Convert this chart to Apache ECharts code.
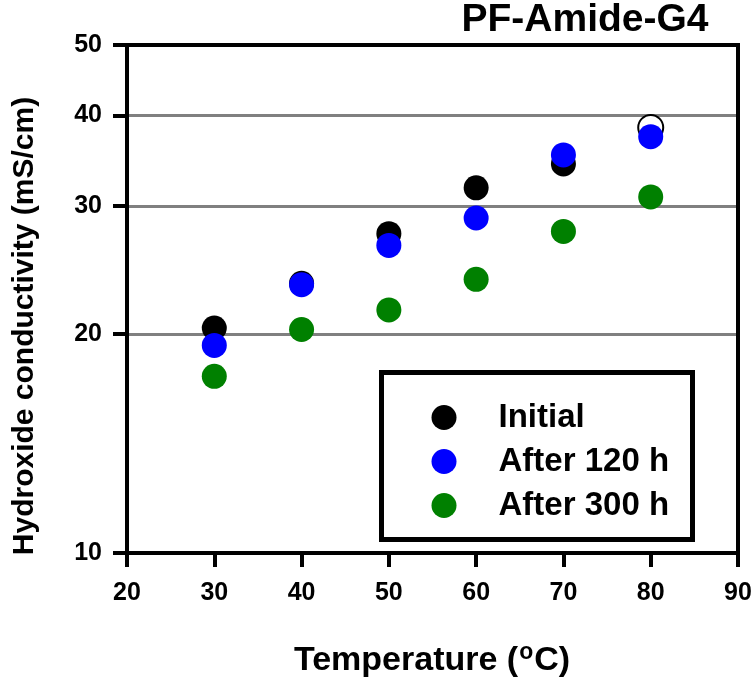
<!DOCTYPE html>
<html><head><meta charset="utf-8">
<script src="https://cdn.jsdelivr.net/npm/echarts@6/dist/echarts.min.js"></script>
<style>html,body{margin:0;padding:0;background:#fff}#c{width:755px;height:680px}</style>
</head><body><div id="c"></div>
<script>
// ---- data ----
const temperatures = [30, 40, 50, 60, 70, 80];
const initialVals = [20.4, 23.5, 27.5, 31.8, 34.3, 38.5];
const after120Vals = [19.3, 23.4, 26.5, 28.9, 35.3, 37.4];
const after300Vals = [17.5, 20.3, 21.6, 23.8, 27.7, 30.9];
const yTickValues = [10, 20, 30, 40, 50];
const seriesNames = ['Initial', 'After 120 h', 'After 300 h'];
const chartTitle = 'PF-Amide-G4';
const yAxisTitle = 'Hydroxide conductivity (mS/cm)';
const xAxisTitleParts = ['Temperature (', 'o', 'C)'];
const openMarkerIndex = 5; // Initial @ 80 °C drawn hollow

// ---- styling ----
const FONT = "'Liberation Sans', Arial, Helvetica, sans-serif";
const colors = ['#000000', '#0000ff', '#008000'];

function pts(vals, hollowIdx) {
  return vals.map((v, i) => {
    if (i === hollowIdx) {
      return { value: [temperatures[i], v], itemStyle: { color: '#ffffff', borderColor: '#000', borderWidth: 2 } };
    }
    return [temperatures[i], v];
  });
}

const chart = echarts.init(document.getElementById('c'), null, { renderer: 'canvas' });
const lblStyle = { color: '#000', fontSize: 25, fontWeight: 'bold', fontFamily: FONT };
chart.setOption({
  animation: false,
  backgroundColor: '#fff',
  grid: { left: 127, right: 17, top: 45, bottom: 127, show: false },
  xAxis: {
    type: 'value', min: 20, max: 90, interval: 10,
    axisLine: { show: true, onZero: false, lineStyle: { color: '#000', width: 4 } },
    axisTick: { show: true, length: 14, lineStyle: { color: '#000', width: 4 } },
    axisLabel: Object.assign({ margin: 28 }, lblStyle),
    splitLine: { show: false }
  },
  yAxis: {
    type: 'log', logBase: 10, min: 10, max: 50,
    axisLine: { show: true, onZero: false, lineStyle: { color: '#000', width: 4 } },
    axisTick: { show: true, length: 14, customValues: yTickValues, lineStyle: { color: '#000', width: 4 } },
    axisLabel: Object.assign({ margin: 25, customValues: yTickValues }, lblStyle),
    splitLine: { show: true, lineStyle: { color: '#808080', width: 3 } },
    minorTick: { show: false }, minorSplitLine: { show: false }
  },
  legend: {
    orient: 'vertical', left: 426.5, top: 396,
    itemWidth: 25, itemHeight: 25, itemGap: 11, icon: 'circle',
    data: seriesNames,
    selectedMode: false,
    textStyle: { fontSize: 33, fontWeight: 'bold', color: '#000', fontFamily: FONT, lineHeight: 32, padding: [0, 0, 0, 37] }
  },
  series: [
    { name: seriesNames[0], type: 'scatter', symbol: 'circle', symbolSize: 25, itemStyle: { color: colors[0], opacity: 1 }, data: pts(initialVals, openMarkerIndex), emphasis: { disabled: true } },
    { name: seriesNames[1], type: 'scatter', symbol: 'circle', symbolSize: 25, itemStyle: { color: colors[1], opacity: 1 }, data: pts(after120Vals, -1), emphasis: { disabled: true } },
    { name: seriesNames[2], type: 'scatter', symbol: 'circle', symbolSize: 25, itemStyle: { color: colors[2], opacity: 1 }, data: pts(after300Vals, -1), emphasis: { disabled: true } }
  ],
  graphic: [
    { type: 'rect', z: 100, silent: true, shape: { x: 127, y: 45, width: 611, height: 508 }, style: { fill: null, stroke: '#000', lineWidth: 4 } },
    { type: 'rect', z: 1, silent: true, shape: { x: 381.5, y: 372.5, width: 311, height: 167 }, style: { fill: null, stroke: '#000', lineWidth: 5 } },
    { type: 'text', z: 100, silent: true, x: 585, y: 20, style: { text: chartTitle, fill: '#000', fontSize: 39, fontWeight: 'bold', fontFamily: FONT, align: 'center', verticalAlign: 'middle' } },
    { type: 'text', z: 100, silent: true, x: 25, y: 326, rotation: Math.PI / 2, style: { text: yAxisTitle, fill: '#000', fontSize: 30, fontWeight: 'bold', fontFamily: FONT, align: 'center', verticalAlign: 'middle' } },
    { type: 'text', z: 100, silent: true, x: 432, y: 661, style: {
        text: '{m|' + xAxisTitleParts[0] + '}{s|' + xAxisTitleParts[1] + '}{m|' + xAxisTitleParts[2] + '}',
        align: 'center', verticalAlign: 'middle',
        rich: {
          m: { fill: '#000', fontSize: 34, fontWeight: 'bold', fontFamily: FONT },
          s: { fill: '#000', fontSize: 23, fontWeight: 'bold', fontFamily: FONT, lineHeight: 23, padding: [0, 1, 16, 1] }
        }
      } }
  ]
});
</script>
</body></html>
